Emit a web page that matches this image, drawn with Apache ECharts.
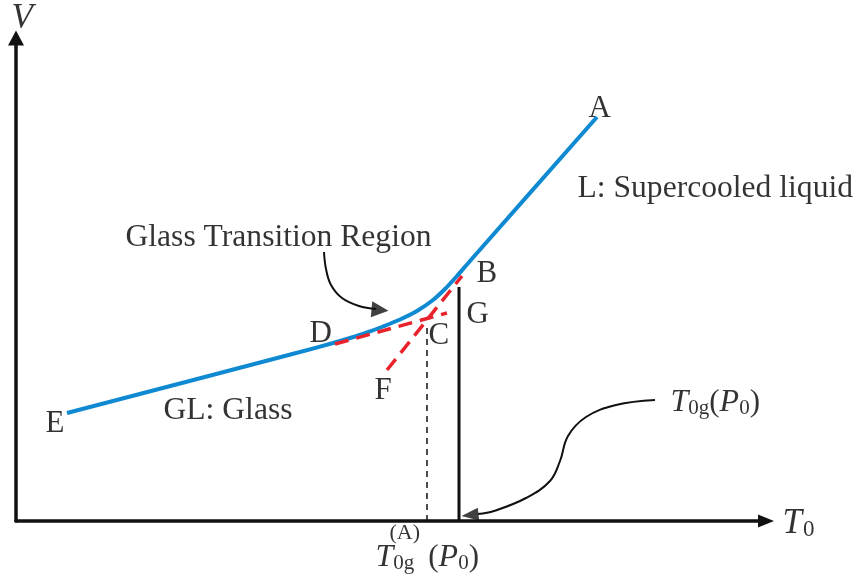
<!DOCTYPE html>
<html><head><meta charset="utf-8">
<script src="https://cdn.jsdelivr.net/npm/echarts@6/dist/echarts.min.js"></script>
<style>html,body{margin:0;padding:0;background:#fff}#c{width:859px;height:581px}</style>
</head><body><div id="c"></div>
<script>
// Volume–temperature curve (schematic units)
const vCurve = [[51,108],[284,169],[317,178],[334,183],[351,188.5],[367,194.5],[384,201.5],[401,210],[417,221],[429,232],[441,245],[454,260],[581,404]];
// extrapolated glass line (D -> C) and liquid line (B -> F)
const glassExtension = [[319,177],[431,208]];
const liquidExtension = [[371,151],[446,245]];
// vertical markers
const tgALine = [[411,0],[411,194]];
const tgLine = [[443,0],[443,234]];
// annotation arrows
const gtrArrow = [[308,269],[310,252],[315,236],[326,223],[343,215],[360,212]];
const gtrHead = [[364,211]];
const tgArrow = [[639,121],[600,116],[570,104],[552,85],[544,60],[534,40],[510,23],[478,10],[462,7]];
const tgHead = [[454,6]];
// labels
const labelPos = [[-5,502],[766,-3],[572,412],[460,247],[450,206],[412,185],[293,187],[358,130],[29,97],[147,110],[561,332],[109,283],[654,118],[359,-37],[373,-12]];
const labelText = [
  '{big|V}',
  '{big|T}{bsub|0}',
  '{t|A}','{t|B}','{t|G}','{t|C}','{t|D}','{t|F}','{t|E}',
  '{tl|GL: Glass}',
  '{tl|L: Supercooled liquid}',
  '{tl|Glass Transition Region}',
  '{it|T}{sub|0g}{t|(}{it|P}{sub|0}{t|)}',
  '{it|T}{subw|0g}{t|(}{it|P}{sub|0}{t|)}',
  '{sup|(A)}'
];

const serif = 'Liberation Serif';
const ink = '#000';
const rich = {
  t: {fontFamily: serif, fontSize: 31, color: ink, lineHeight: 32, verticalAlign: 'top'},
  tl: {fontFamily: serif, fontSize: 31.6, color: ink, lineHeight: 33, verticalAlign: 'top'},
  it: {fontFamily: serif, fontSize: 32, fontStyle: 'italic', color: ink, lineHeight: 32, verticalAlign: 'top'},
  big: {fontFamily: serif, fontSize: 35, fontStyle: 'italic', color: ink, lineHeight: 35, verticalAlign: 'top'},
  bsub: {fontFamily: serif, fontSize: 23, color: ink, lineHeight: 23, padding: [19,0,0,1], verticalAlign: 'bottom'},
  sub: {fontFamily: serif, fontSize: 21, color: ink, lineHeight: 21, padding: [17,0,0,0], verticalAlign: 'bottom'},
  subw: {fontFamily: serif, fontSize: 21, color: ink, lineHeight: 21, padding: [17,14,0,0], verticalAlign: 'bottom'},
  sup: {fontFamily: serif, fontSize: 22, color: ink, lineHeight: 22}
};

const blue = '#0f8ad2';
const red = '#e8232b';

const chart = echarts.init(document.getElementById('c'), null, {renderer: 'canvas'});
chart.setOption({
  animation: false,
  backgroundColor: '#fff',
  grid: {left: 16, right: 93, top: 38, bottom: 60},
  xAxis: {
    type: 'value', min: 0, max: 750,
    axisLine: {show: true, symbol: ['none','triangle'], symbolSize: [13,16], lineStyle: {color: '#111', width: 3.5}},
    axisTick: {show: false}, axisLabel: {show: false}, splitLine: {show: false}
  },
  yAxis: {
    type: 'value', min: 0, max: 483,
    axisLine: {show: true, symbol: ['none','triangle'], symbolSize: [16,15], lineStyle: {color: '#111', width: 3.5}},
    axisTick: {show: false}, axisLabel: {show: false}, splitLine: {show: false}
  },
  series: [
    {type: 'line', data: tgALine, showSymbol: false, silent: true,
     lineStyle: {color: '#111', width: 1.5, type: [6,5]}},
    {type: 'line', data: tgLine, showSymbol: false, silent: true,
     lineStyle: {color: '#111', width: 3}},
    {type: 'line', data: vCurve, smooth: 0.3, showSymbol: false, silent: true,
     lineStyle: {color: blue, width: 4}},
    {type: 'line', data: glassExtension, showSymbol: false, silent: true,
     lineStyle: {color: red, width: 3.5, type: [14,8]}},
    {type: 'line', data: liquidExtension, showSymbol: false, silent: true,
     lineStyle: {color: red, width: 3.5, type: [14,8]}},
    {type: 'line', data: gtrArrow, smooth: 0.4, showSymbol: false, silent: true,
     lineStyle: {color: '#111', width: 2}},
    {type: 'scatter', data: gtrHead, symbol: 'triangle', symbolSize: [16,17], symbolRotate: -95,
     itemStyle: {color: '#111'}, silent: true},
    {type: 'line', data: tgArrow, smooth: 0.4, showSymbol: false, silent: true,
     lineStyle: {color: '#111', width: 2}},
    {type: 'scatter', data: tgHead, symbol: 'triangle', symbolSize: [13,17], symbolRotate: 96,
     itemStyle: {color: '#111'}, silent: true},
    {type: 'scatter', clip: false, silent: true, symbolSize: 1,
     itemStyle: {color: 'rgba(0,0,0,0)'},
     data: labelPos.map((p, i) => ({value: p, label: {formatter: labelText[i]}})),
     label: {show: true, position: 'right', distance: 0, color: ink, textBorderWidth: 0, rich: rich}}
  ]
});
</script></body></html>
